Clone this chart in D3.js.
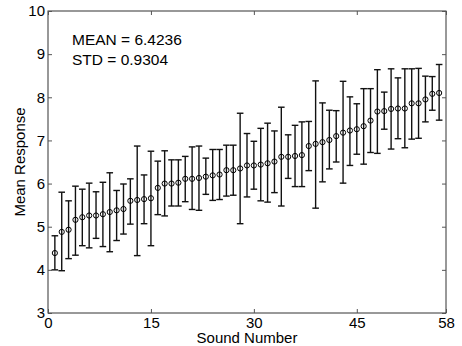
<!DOCTYPE html>
<html>
<head>
<meta charset="utf-8">
<script src="https://cdn.jsdelivr.net/npm/d3@7"></script>
<style>
  body { margin: 0; background: #fff; }
  svg { display: block; font-family: Arial, "Liberation Sans", sans-serif; }
</style>
</head>
<body>
<svg id="chart" width="462" height="346"></svg>
<script>
// data
const soundIds = d3.range(1, 58);
const meanVals = [4.39, 4.88, 4.93, 5.16, 5.22, 5.26, 5.26, 5.29, 5.34, 5.38,
  5.41, 5.60, 5.62, 5.64, 5.66, 5.90, 6.00, 6.00, 6.02, 6.11,
  6.11, 6.13, 6.16, 6.19, 6.21, 6.31, 6.31, 6.35, 6.42, 6.42,
  6.44, 6.47, 6.51, 6.62, 6.62, 6.64, 6.66, 6.87, 6.92, 6.96,
  7.01, 7.10, 7.18, 7.23, 7.26, 7.33, 7.46, 7.67, 7.68, 7.73,
  7.74, 7.74, 7.86, 7.86, 7.95, 8.08, 8.10];
const upperVals = [4.79, 5.80, 5.60, 5.94, 5.87, 6.01, 5.81, 6.03, 6.25, 5.84,
  5.99, 6.11, 6.87, 6.20, 6.75, 6.52, 6.76, 6.55, 6.55, 6.63,
  6.85, 6.87, 6.59, 6.79, 6.79, 6.89, 6.89, 7.63, 7.16, 6.98,
  7.28, 7.40, 7.22, 7.77, 7.13, 7.35, 7.43, 7.44, 8.38, 7.87,
  7.70, 7.69, 8.37, 8.01, 7.85, 8.20, 8.20, 8.64, 8.12, 8.66,
  8.45, 8.66, 8.66, 8.67, 8.49, 8.48, 8.76];
const lowerVals = [4.00, 3.98, 4.26, 4.34, 4.56, 4.51, 4.73, 4.54, 4.42, 4.68,
  4.83, 5.06, 4.33, 5.07, 4.56, 5.28, 5.25, 5.48, 5.48, 5.58,
  5.40, 5.38, 5.75, 5.61, 5.63, 5.71, 5.73, 5.07, 5.69, 5.87,
  5.60, 5.57, 5.79, 5.48, 6.12, 5.93, 5.93, 6.30, 5.43, 6.04,
  6.34, 6.50, 6.01, 6.42, 6.68, 6.45, 6.72, 6.70, 7.26, 6.80,
  7.04, 6.83, 7.03, 7.05, 7.43, 7.70, 7.47];
const xTicks = [0, 15, 30, 45, 58];
const yTicks = [3, 4, 5, 6, 7, 8, 9, 10];
const statLines = ["MEAN = 6.4236", "STD = 0.9304"];

const points = soundIds.map((id, i) => ({id: id, m: meanVals[i], lo: lowerVals[i], hi: upperVals[i]}));

const svg = d3.select("#chart");
const plotL = 48, plotR = 446, plotT = 11, plotB = 313;

const x = d3.scaleLinear().domain([0, 58]).range([plotL, plotR]);
const y = d3.scaleLinear().domain([3, 10]).range([plotB, plotT]);

// box
svg.append("rect")
  .attr("x", plotL).attr("y", plotT)
  .attr("width", plotR - plotL).attr("height", plotB - plotT)
  .attr("fill", "none").attr("stroke", "#333").attr("stroke-width", 1);

// axes, ticks inward
svg.append("g").attr("transform", `translate(0,${plotB})`)
  .call(d3.axisBottom(x).tickValues(xTicks).tickFormat(d3.format("d")).tickSize(-4).tickPadding(4));
svg.append("g").attr("transform", `translate(${plotL},0)`)
  .call(d3.axisLeft(y).tickValues(yTicks).tickFormat(d3.format("d")).tickSize(-4).tickPadding(3));
// mirror ticks on top/right
svg.append("g").attr("transform", `translate(0,${plotT})`)
  .call(d3.axisTop(x).tickValues(xTicks).tickSize(-4).tickFormat(""));
svg.append("g").attr("transform", `translate(${plotR},0)`)
  .call(d3.axisRight(y).tickValues(yTicks).tickSize(-4).tickFormat(""));

svg.selectAll(".domain").remove();
svg.selectAll(".tick line").attr("stroke", "#555");
svg.selectAll(".tick text").attr("font-size", 15).attr("fill", "#000")
  .attr("font-family", "Arial, 'Liberation Sans', sans-serif");

// error bars
const bars = svg.append("g").attr("stroke", "#111").attr("stroke-width", 1.4);
points.forEach(d => {
  const cx = x(d.id);
  bars.append("line").attr("x1", cx).attr("x2", cx).attr("y1", y(d.lo)).attr("y2", y(d.hi));
  bars.append("line").attr("x1", cx - 3.3).attr("x2", cx + 3.3).attr("y1", y(d.lo)).attr("y2", y(d.lo));
  bars.append("line").attr("x1", cx - 3.3).attr("x2", cx + 3.3).attr("y1", y(d.hi)).attr("y2", y(d.hi));
});

// mean markers (hollow, bar shows through like matlab 'o')
svg.append("g").selectAll("circle")
  .data(points)
  .join("circle")
  .attr("cx", d => x(d.id))
  .attr("cy", d => y(d.m))
  .attr("r", 2.6)
  .attr("fill", "none")
  .attr("stroke", "#000")
  .attr("stroke-width", 1);

// stats text
svg.append("g").selectAll("text")
  .data(statLines)
  .join("text")
  .attr("x", 72)
  .attr("y", (d, i) => 45 + i * 19.5)
  .attr("font-size", 15.5)
  .text(d => d);

// axis labels
svg.append("text")
  .attr("x", (plotL + plotR) / 2).attr("y", 343)
  .attr("text-anchor", "middle").attr("font-size", 15)
  .text("Sound Number");
svg.append("text")
  .attr("transform", `translate(25,${(plotT + plotB) / 2}) rotate(-90)`)
  .attr("text-anchor", "middle").attr("font-size", 15)
  .text("Mean Response");
</script>
</body>
</html>
